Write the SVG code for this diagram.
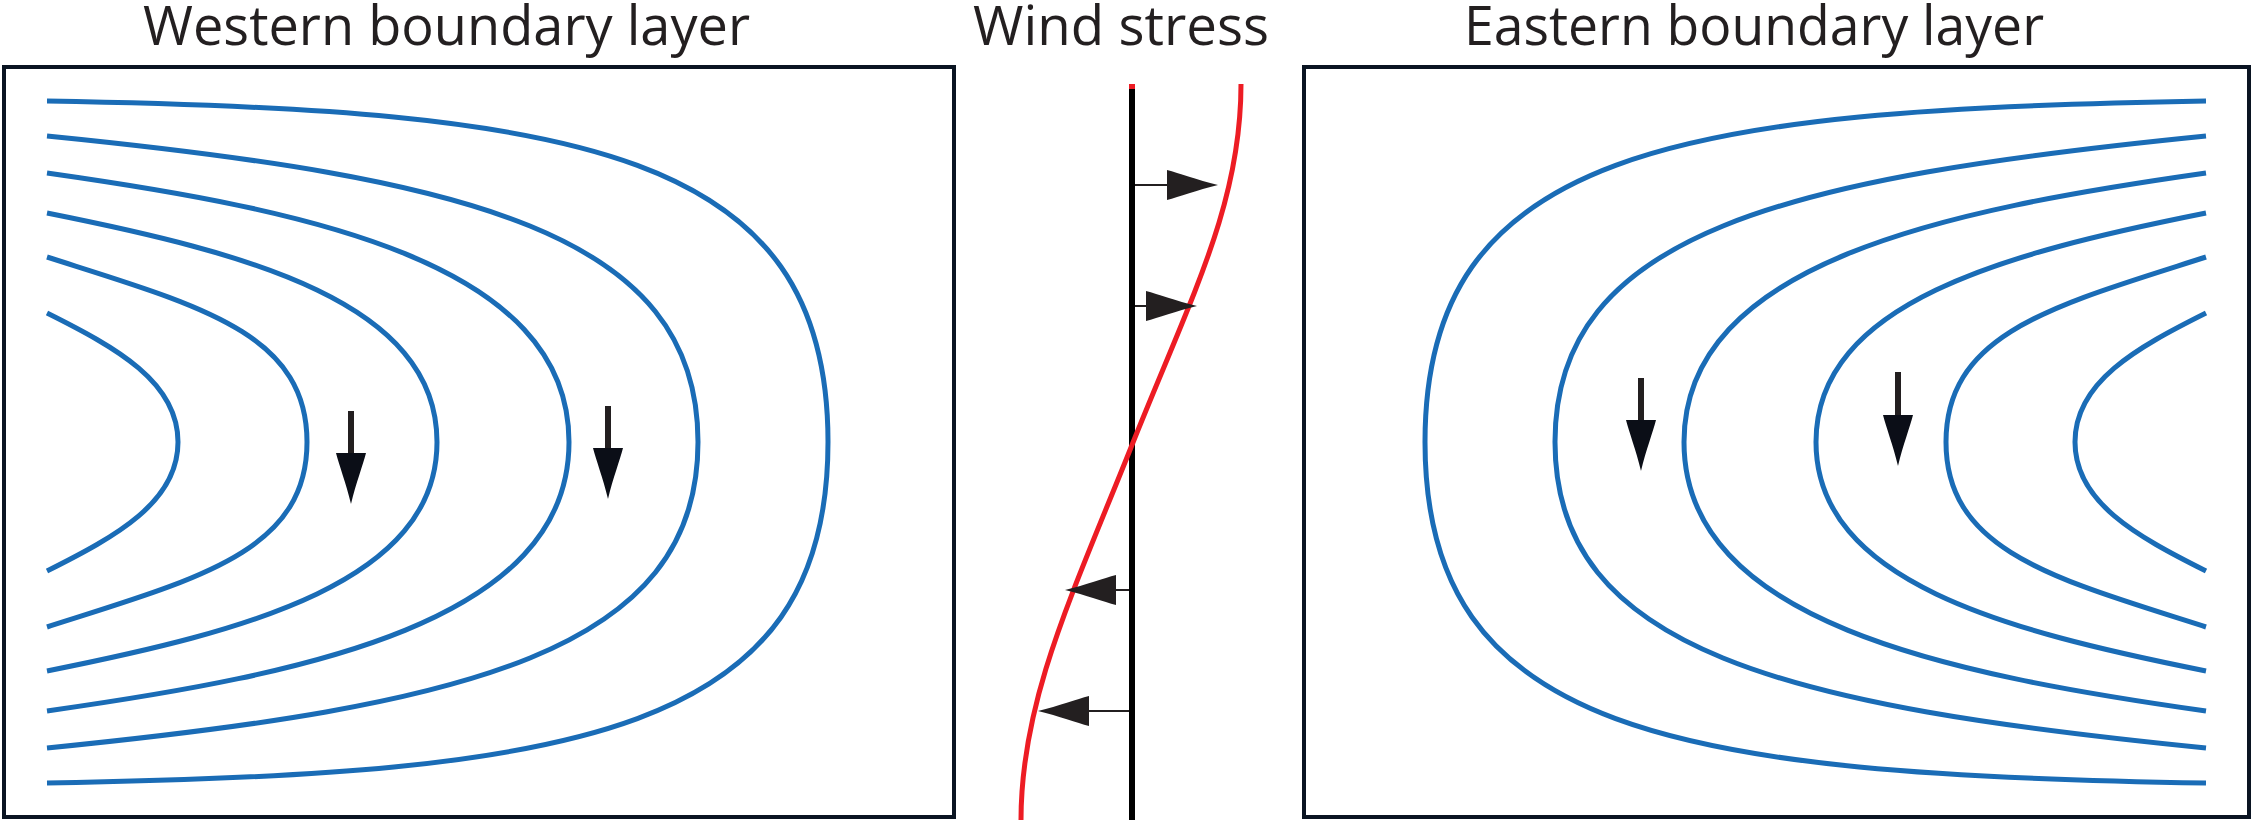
<svg xmlns="http://www.w3.org/2000/svg" xmlns:xlink="http://www.w3.org/1999/xlink" width="2256" height="820" viewBox="0 0 2256 820">
<style>
.title{font-family:"Open Sans","Liberation Sans",sans-serif;font-size:55px;fill:#231f20}
.box{fill:none;stroke:#0a1422;stroke-width:4}
.stream{fill:none;stroke:#1a6cb6;stroke-width:5;stroke-linecap:butt}
.shaft{fill:#231f20}
.head{fill:#0b0e17}
.whead{fill:#231f20}
.wline{stroke:#231f20;stroke-width:2;fill:none}
</style>
<defs>
<path id="headDown" d="M-15,0 C-12,12 -5,30 0,51 C5,30 12,12 15,0 Z"/>
<path id="headRight" d="M0,-15 C12,-12 30,-5 51,0 C30,5 12,12 0,15 Z"/>
<g id="streams">
<path class="stream" d="M47,313 C117,348 178,382 178,442 C178,502 117,536 47,571"/>
<path class="stream" d="M47,257 C197,305 307,332 307,442 C307,552 197,579 47,627"/>
<path class="stream" d="M47,213 C247,253 437,302 437,442 C437,582 247,631 47,671"/>
<path class="stream" d="M47,173 C307,210 569,262 569,442 C569,622 307,674 47,711"/>
<path class="stream" d="M47,136 C467,178 698,232 698,442 C698,652 467,706 47,748"/>
<path class="stream" d="M47,101 C580,110 828,150 828,442 C828,734 580,774 47,783"/>
</g>
</defs>

<g id="titles">
<text class="title" x="143" y="45" textLength="607" lengthAdjust="spacingAndGlyphs">Western boundary layer</text>
<text class="title" x="973" y="45" textLength="296" lengthAdjust="spacingAndGlyphs">Wind stress</text>
<text class="title" x="1464" y="45" textLength="580" lengthAdjust="spacingAndGlyphs">Eastern boundary layer</text>
</g>

<g id="western-box">
<rect class="box" x="4" y="67" width="950" height="750"/>
<use xlink:href="#streams"/>
<g id="western-arrow-1">
<rect class="shaft" x="348" y="411" width="6" height="44"/>
<use class="head" xlink:href="#headDown" transform="translate(351,453)"/>
</g>
<g id="western-arrow-2">
<rect class="shaft" x="605" y="406" width="6" height="44"/>
<use class="head" xlink:href="#headDown" transform="translate(608,448)"/>
</g>
</g>

<g id="wind-stress">
<rect x="1129" y="84" width="6" height="8" fill="#ed1c24"/>
<line x1="1132" y1="89" x2="1132" y2="820" stroke="#000" stroke-width="6"/>
<path d="M1241,84 C1241,204 1192,295 1132,445 S1021,700 1021,820" fill="none" stroke="#ed1c24" stroke-width="5"/>
<g id="wind-arrow-1">
<line class="wline" x1="1135" y1="185" x2="1168" y2="185"/>
<use class="whead" xlink:href="#headRight" transform="translate(1167,185)"/>
</g>
<g id="wind-arrow-2">
<line class="wline" x1="1135" y1="306" x2="1147" y2="306"/>
<use class="whead" xlink:href="#headRight" transform="translate(1146,306)"/>
</g>
<g id="wind-arrow-3">
<line class="wline" x1="1129" y1="590" x2="1115" y2="590"/>
<use class="whead" xlink:href="#headRight" transform="translate(1116,590) scale(-1,1)"/>
</g>
<g id="wind-arrow-4">
<line class="wline" x1="1129" y1="711" x2="1088" y2="711"/>
<use class="whead" xlink:href="#headRight" transform="translate(1089,711) scale(-1,1)"/>
</g>
</g>

<g id="eastern-box">
<rect class="box" x="1304" y="67" width="945" height="750"/>
<use xlink:href="#streams" transform="translate(2253,0) scale(-1,1)"/>
<g id="eastern-arrow-1">
<rect class="shaft" x="1638" y="378" width="6" height="44"/>
<use class="head" xlink:href="#headDown" transform="translate(1641,420)"/>
</g>
<g id="eastern-arrow-2">
<rect class="shaft" x="1895" y="372" width="6" height="45"/>
<use class="head" xlink:href="#headDown" transform="translate(1898,415)"/>
</g>
</g>
</svg>
